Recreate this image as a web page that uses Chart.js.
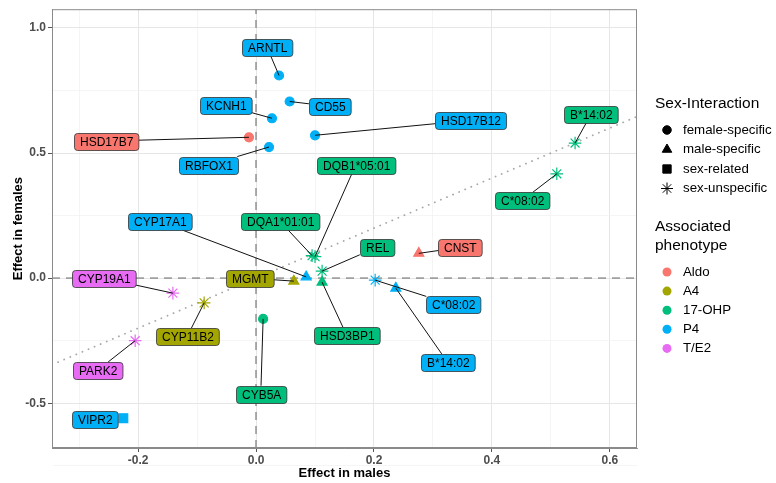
<!DOCTYPE html>
<html>
<head>
<meta charset="utf-8">
<script src="https://cdn.jsdelivr.net/npm/chart.js@4/dist/chart.umd.min.js"></script>
<style>
  html, body { margin: 0; padding: 0; background: #fff; }
</style>
</head>
<body>
<canvas id="myChart" width="776" height="483"></canvas>
<script>
// data
const genes = ['ARNTL', 'CD55', 'KCNH1', 'HSD17B7', 'HSD17B12', 'RBFOX1', 'B*14:02', 'C*08:02',
  'DQB1*05:01', 'DQA1*01:01', 'REL', 'HSD3BP1', 'CYP17A1', 'MGMT', 'CNST', 'C*08:02', 'B*14:02',
  'CYP19A1', 'CYP11B2', 'PARK2', 'CYB5A', 'VIPR2'];
const maleEffect = [0.039, 0.057, 0.027, -0.012, 0.100, 0.022, 0.541, 0.510,
  0.100, 0.095, 0.112, 0.112, 0.085, 0.064, 0.276, 0.202, 0.237,
  -0.141, -0.088, -0.205, 0.012, -0.225];
const femaleEffect = [0.810, 0.706, 0.639, 0.563, 0.571, 0.524, 0.540, 0.417,
  0.086, 0.090, 0.028, -0.016, 0.005, -0.012, 0.099, -0.008, -0.040,
  -0.060, -0.099, -0.250, -0.163, -0.560];
const phenotype = ['P4', 'P4', 'P4', 'Aldo', 'P4', 'P4', '17-OHP', '17-OHP',
  '17-OHP', '17-OHP', '17-OHP', '17-OHP', 'P4', 'A4', 'Aldo', 'P4', 'P4',
  'T/E2', 'A4', 'T/E2', '17-OHP', 'P4'];
const interaction = ['female-specific', 'female-specific', 'female-specific', 'female-specific', 'female-specific', 'female-specific', 'sex-unspecific', 'sex-unspecific',
  'sex-unspecific', 'sex-unspecific', 'sex-unspecific', 'male-specific', 'male-specific', 'male-specific', 'male-specific', 'sex-unspecific', 'male-specific',
  'sex-unspecific', 'sex-unspecific', 'sex-unspecific', 'female-specific', 'sex-related'];
// where the repelled labels sit (data units)
const labelX = [0.019, 0.125, -0.051, -0.254, 0.364, -0.080, 0.568, 0.451,
  0.169, 0.041, 0.205, 0.154, -0.163, -0.010, 0.346, 0.334, 0.325,
  -0.258, -0.117, -0.269, 0.008, -0.273];
const labelY = [0.921, 0.687, 0.690, 0.548, 0.631, 0.452, 0.655, 0.310,
  0.452, 0.226, 0.123, -0.230, 0.226, 0.000, 0.123, -0.107, -0.337,
  0.000, -0.234, -0.369, -0.464, -0.567];

const phenotypes = ['Aldo', 'A4', '17-OHP', 'P4', 'T/E2'];
const interactions = ['female-specific', 'male-specific', 'sex-related', 'sex-unspecific'];
const xTicks = [-0.3, -0.2, -0.1, 0, 0.1, 0.2, 0.3, 0.4, 0.5, 0.6];
const yTicks = [-0.75, -0.5, -0.25, 0, 0.25, 0.5, 0.75, 1.0];
const xMajor = [-0.2, 0, 0.2, 0.4, 0.6];
const yMajor = [-0.5, 0, 0.5, 1.0];
const xRange = [-0.346, 0.646];
const yRange = [-0.679, 1.075];

const phenoColor = { 'Aldo': '#F8766D', 'A4': '#A3A500', '17-OHP': '#00BF7D', 'P4': '#00B0F6', 'T/E2': '#E76BF3' };
const shapeOf = { 'female-specific': 'circle', 'male-specific': 'triangle', 'sex-related': 'rect', 'sex-unspecific': 'star' };
const radiusOf = { 'female-specific': 4.5, 'male-specific': 5.8, 'sex-related': 6.2, 'sex-unspecific': 6.3 };

const FONT = '"Liberation Sans", Arial, Helvetica, sans-serif';

function isMajor(v, list) {
  return list.some(m => Math.abs(m - v) < 1e-9);
}

const points = genes.map((g, i) => ({ x: maleEffect[i], y: femaleEffect[i] }));

const labelPlugin = {
  id: 'repelLabels',
  afterDatasetsDraw(chart) {
    const ctx = chart.ctx;
    const xs = chart.scales.x, ys = chart.scales.y;
    ctx.save();
    ctx.font = '12px ' + FONT;
    const h = 17;
    for (let i = 0; i < genes.length; i++) {
      const px = xs.getPixelForValue(maleEffect[i]);
      const py = ys.getPixelForValue(femaleEffect[i]);
      const cx = xs.getPixelForValue(labelX[i]);
      const cy = ys.getPixelForValue(labelY[i]);
      const w = ctx.measureText(genes[i]).width + 11;
      // segment from point to the box edge
      const dx = cx - px, dy = cy - py;
      let t = Math.min(dx !== 0 ? (w / 2) / Math.abs(dx) : Infinity, dy !== 0 ? (h / 2) / Math.abs(dy) : Infinity);
      if (t < 1) {
        const ex = cx - dx * t, ey = cy - dy * t;
        if (Math.hypot(ex - px, ey - py) > 7) {
          ctx.strokeStyle = '#111';
          ctx.lineWidth = 1;
          ctx.beginPath();
          ctx.moveTo(px, py);
          ctx.lineTo(ex, ey);
          ctx.stroke();
        }
      }
      const left = Math.round(cx - w / 2) + 0.5, top = Math.round(cy - h / 2) + 0.5;
      ctx.fillStyle = phenoColor[phenotype[i]];
      ctx.strokeStyle = '#333';
      ctx.lineWidth = 0.8;
      ctx.beginPath();
      ctx.roundRect(left, top, w, h, 3);
      ctx.fill();
      ctx.stroke();
      ctx.fillStyle = '#000';
      ctx.textAlign = 'center';
      ctx.textBaseline = 'middle';
      ctx.fillText(genes[i], left + w / 2, top + h / 2 + 0.5);
    }
    ctx.restore();
  }
};

const legendPlugin = {
  id: 'sideLegend',
  afterDraw(chart) {
    const ctx = chart.ctx;
    ctx.save();
    const x0 = 655, markX = 667, textX = 683;
    ctx.fillStyle = '#000';
    ctx.textBaseline = 'middle';
    ctx.textAlign = 'left';
    ctx.font = '15.5px ' + FONT;
    ctx.fillText('Sex-Interaction', x0, 104);
    ctx.font = '13.3px ' + FONT;
    interactions.forEach((it, k) => {
      const y = 130 + k * 19.5;
      Chart.helpers.drawPoint(ctx, {
        pointStyle: shapeOf[it], radius: radiusOf[it] * 0.95, borderWidth: 1.2, rotation: 0
      }, markX, y);
      ctx.fillStyle = '#000';
      ctx.strokeStyle = '#000';
      ctx.fillText(it, textX, y);
    });
    ctx.font = '15.5px ' + FONT;
    ctx.fillText('Associated', x0, 227);
    ctx.fillText('phenotype', x0, 246);
    ctx.font = '13.3px ' + FONT;
    phenotypes.forEach((p, k) => {
      const y = 272 + k * 19.1;
      ctx.fillStyle = phenoColor[p];
      ctx.beginPath();
      ctx.arc(markX, y, 4.5, 0, Math.PI * 2);
      ctx.fill();
      ctx.fillStyle = '#000';
      ctx.fillText(p, textX, y);
    });
    ctx.restore();
  }
};

// legend point markers are black
Chart.defaults.elements.point.backgroundColor = '#000';

const ctx = document.getElementById('myChart').getContext('2d');
ctx.fillStyle = '#000';
ctx.strokeStyle = '#000';

const myChart = new Chart(ctx, {
  type: 'scatter',
  data: {
    datasets: [{
      label: 'genes',
      data: points,
      pointStyle: phenotype.map((p, i) => shapeOf[interaction[i]]),
      pointRadius: interaction.map(it => radiusOf[it]),
      backgroundColor: phenotype.map(p => phenoColor[p]),
      borderColor: phenotype.map(p => phenoColor[p]),
      borderWidth: 1.2,
      order: 1
    }, {
      label: 'identity',
      type: 'line',
      data: [{ x: xRange[0], y: xRange[0] }, { x: xRange[1], y: xRange[1] }],
      borderColor: '#a8a8a8',
      borderWidth: 1.8,
      borderDash: [0.1, 6.5],
      borderCapStyle: 'round',
      pointRadius: 0,
      order: 3
    }, {
      label: 'x zero',
      type: 'line',
      data: [{ x: xRange[0], y: 0 }, { x: xRange[1], y: 0 }],
      borderColor: '#a0a0a0',
      borderWidth: 1.8,
      borderDash: [8, 6],
      pointRadius: 0,
      order: 4
    }, {
      label: 'y zero',
      type: 'line',
      data: [{ x: 0, y: yRange[0] }, { x: 0, y: yRange[1] }],
      borderColor: '#a0a0a0',
      borderWidth: 1.8,
      borderDash: [8, 6],
      pointRadius: 0,
      order: 4
    }]
  },
  options: {
    responsive: false,
    animation: false,
    devicePixelRatio: 1,
    layout: { padding: { top: 6, right: 139, left: 0, bottom: 0 } },
    plugins: { legend: { display: false }, tooltip: { enabled: false } },
    scales: {
      x: {
        type: 'linear',
        min: xRange[0],
        max: xRange[1],
        afterBuildTicks(scale) { scale.ticks = xTicks.map(v => ({ value: v })); },
        afterFit(scale) { scale.height = 35; },
        border: { color: '#8a8a8a', width: 1 },
        grid: {
          color: c => isMajor(c.tick.value, xMajor) ? '#e6e6e6' : '#f0f0f0',
          lineWidth: c => isMajor(c.tick.value, xMajor) ? 1 : 0.7,
          tickColor: c => isMajor(c.tick.value, xMajor) ? '#555' : 'rgba(0,0,0,0)',
          tickLength: 4
        },
        ticks: {
          autoSkip: false,
          maxRotation: 0,
          padding: 1,
          color: '#4d4d4d',
          font: { family: FONT, size: 12, weight: 'bold' },
          callback: v => isMajor(v, xMajor) ? v.toFixed(1) : ''
        },
        title: {
          display: true,
          text: 'Effect in males',
          color: '#000',
          font: { family: FONT, size: 13, weight: 'bold' },
          padding: { top: 0, bottom: 2 }
        }
      },
      y: {
        type: 'linear',
        min: yRange[0],
        max: yRange[1],
        afterBuildTicks(scale) { scale.ticks = yTicks.map(v => ({ value: v })); },
        afterFit(scale) { scale.width = 52; },
        border: { color: '#8a8a8a', width: 1 },
        grid: {
          color: c => isMajor(c.tick.value, yMajor) ? '#e6e6e6' : '#f0f0f0',
          lineWidth: c => isMajor(c.tick.value, yMajor) ? 1 : 0.7,
          tickColor: c => isMajor(c.tick.value, yMajor) ? '#555' : 'rgba(0,0,0,0)',
          tickLength: 4
        },
        ticks: {
          autoSkip: false,
          padding: 2,
          color: '#4d4d4d',
          font: { family: FONT, size: 12, weight: 'bold' },
          callback: v => isMajor(v, yMajor) ? v.toFixed(1) : ''
        },
        title: {
          display: true,
          text: 'Effect in females',
          color: '#000',
          font: { family: FONT, size: 13, weight: 'bold' },
          padding: { top: 11, bottom: 0 }
        }
      }
    }
  },
  plugins: [labelPlugin, legendPlugin, {
    id: 'frame',
    afterDatasetsDraw(chart) {
      const a = chart.chartArea, c = chart.ctx;
      c.save();
      c.strokeStyle = '#8a8a8a';
      c.lineWidth = 1;
      c.strokeRect(a.left + 0.5, a.top + 0.5, a.right - a.left - 1, a.bottom - a.top - 1);
      c.restore();
    }
  }]
});
</script>
</body>
</html>
